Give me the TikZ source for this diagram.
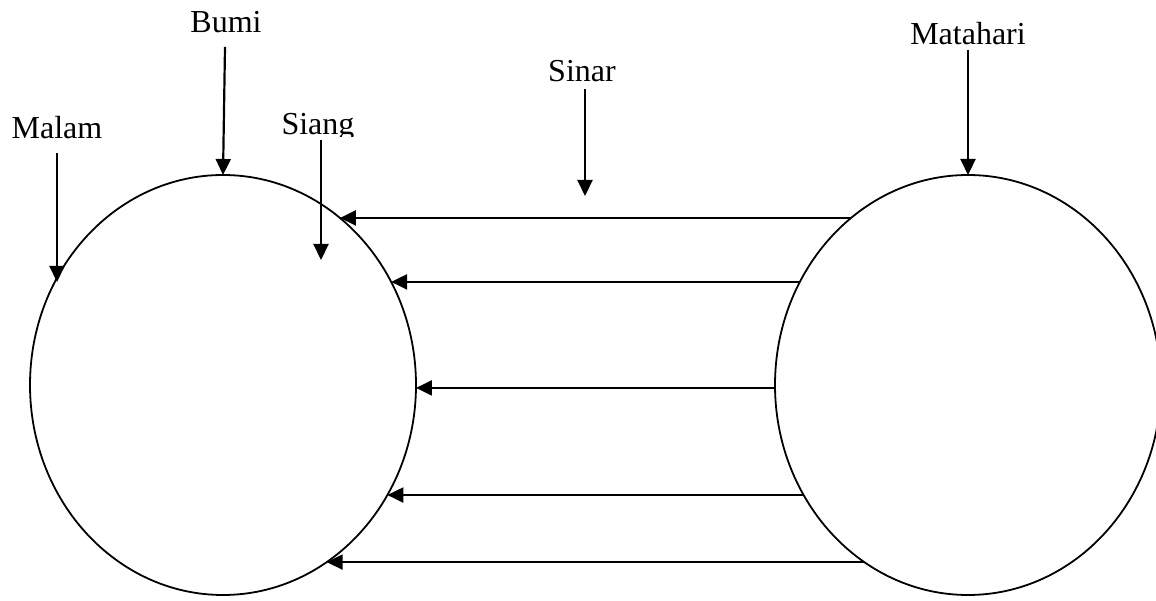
\documentclass[tikz,border=0pt]{standalone}
\usepackage{fontspec}
\setmainfont{Liberation Serif}
\usetikzlibrary{arrows.meta,shapes.geometric,calc}
\begin{document}
\begin{tikzpicture}[x=1pt,y=1pt,
  globe/.style={draw, ellipse, line width=1.8pt, minimum width=386pt, minimum height=420pt, inner sep=0pt, outer sep=0pt},
  lbl/.style={inner sep=0pt, anchor=base, font=\fontsize{32}{37}\selectfont},
  arr/.style={line width=2.2pt, -{Triangle[length=16pt,width=15pt]}}]
\useasboundingbox (0,0) rectangle (1156,601);
\node[globe] (L) at (223,216) {};
\node[globe] (R) at (968,216) {};
% labels
\node[lbl] (bumi) at (226,568) {Bumi};
\node[lbl] (malam) at (57,462) {Malam};
\begin{scope}
  \clip (240,464) rectangle (400,530);
  \node[lbl] (siang) at (318,466) {Siang};
\end{scope}
\node[lbl] (sinar) at (582,519) {Sinar};
\node[lbl] (matahari) at (968,556) {Matahari};
% free ends
\coordinate (mtip) at (57,319);
\coordinate (stip) at (321,341);
\coordinate (rtip) at (585,405);
% vertical arrows
\draw[arr] ([xshift=-1pt,yshift=-14pt]bumi.base) -- (L.north);
\draw[arr] ([yshift=-14pt]malam.base) -- (mtip);
\draw[arr] ([xshift=3pt,yshift=-5pt]siang.base) -- (stip);
\draw[arr] ([xshift=3pt,yshift=-7pt]sinar.base) -- (rtip);
\draw[arr] ([yshift=-5pt]matahari.base) -- (R.north);
% rays
\foreach \t in {52.7,29.4,-0.8,-31.6,-57.5}{
  \draw[arr] ($(R.center)+(180-\t:193pt and 210pt)$) -- ($(L.center)+(\t:193pt and 210pt)$);
}
\end{tikzpicture}
\end{document}
